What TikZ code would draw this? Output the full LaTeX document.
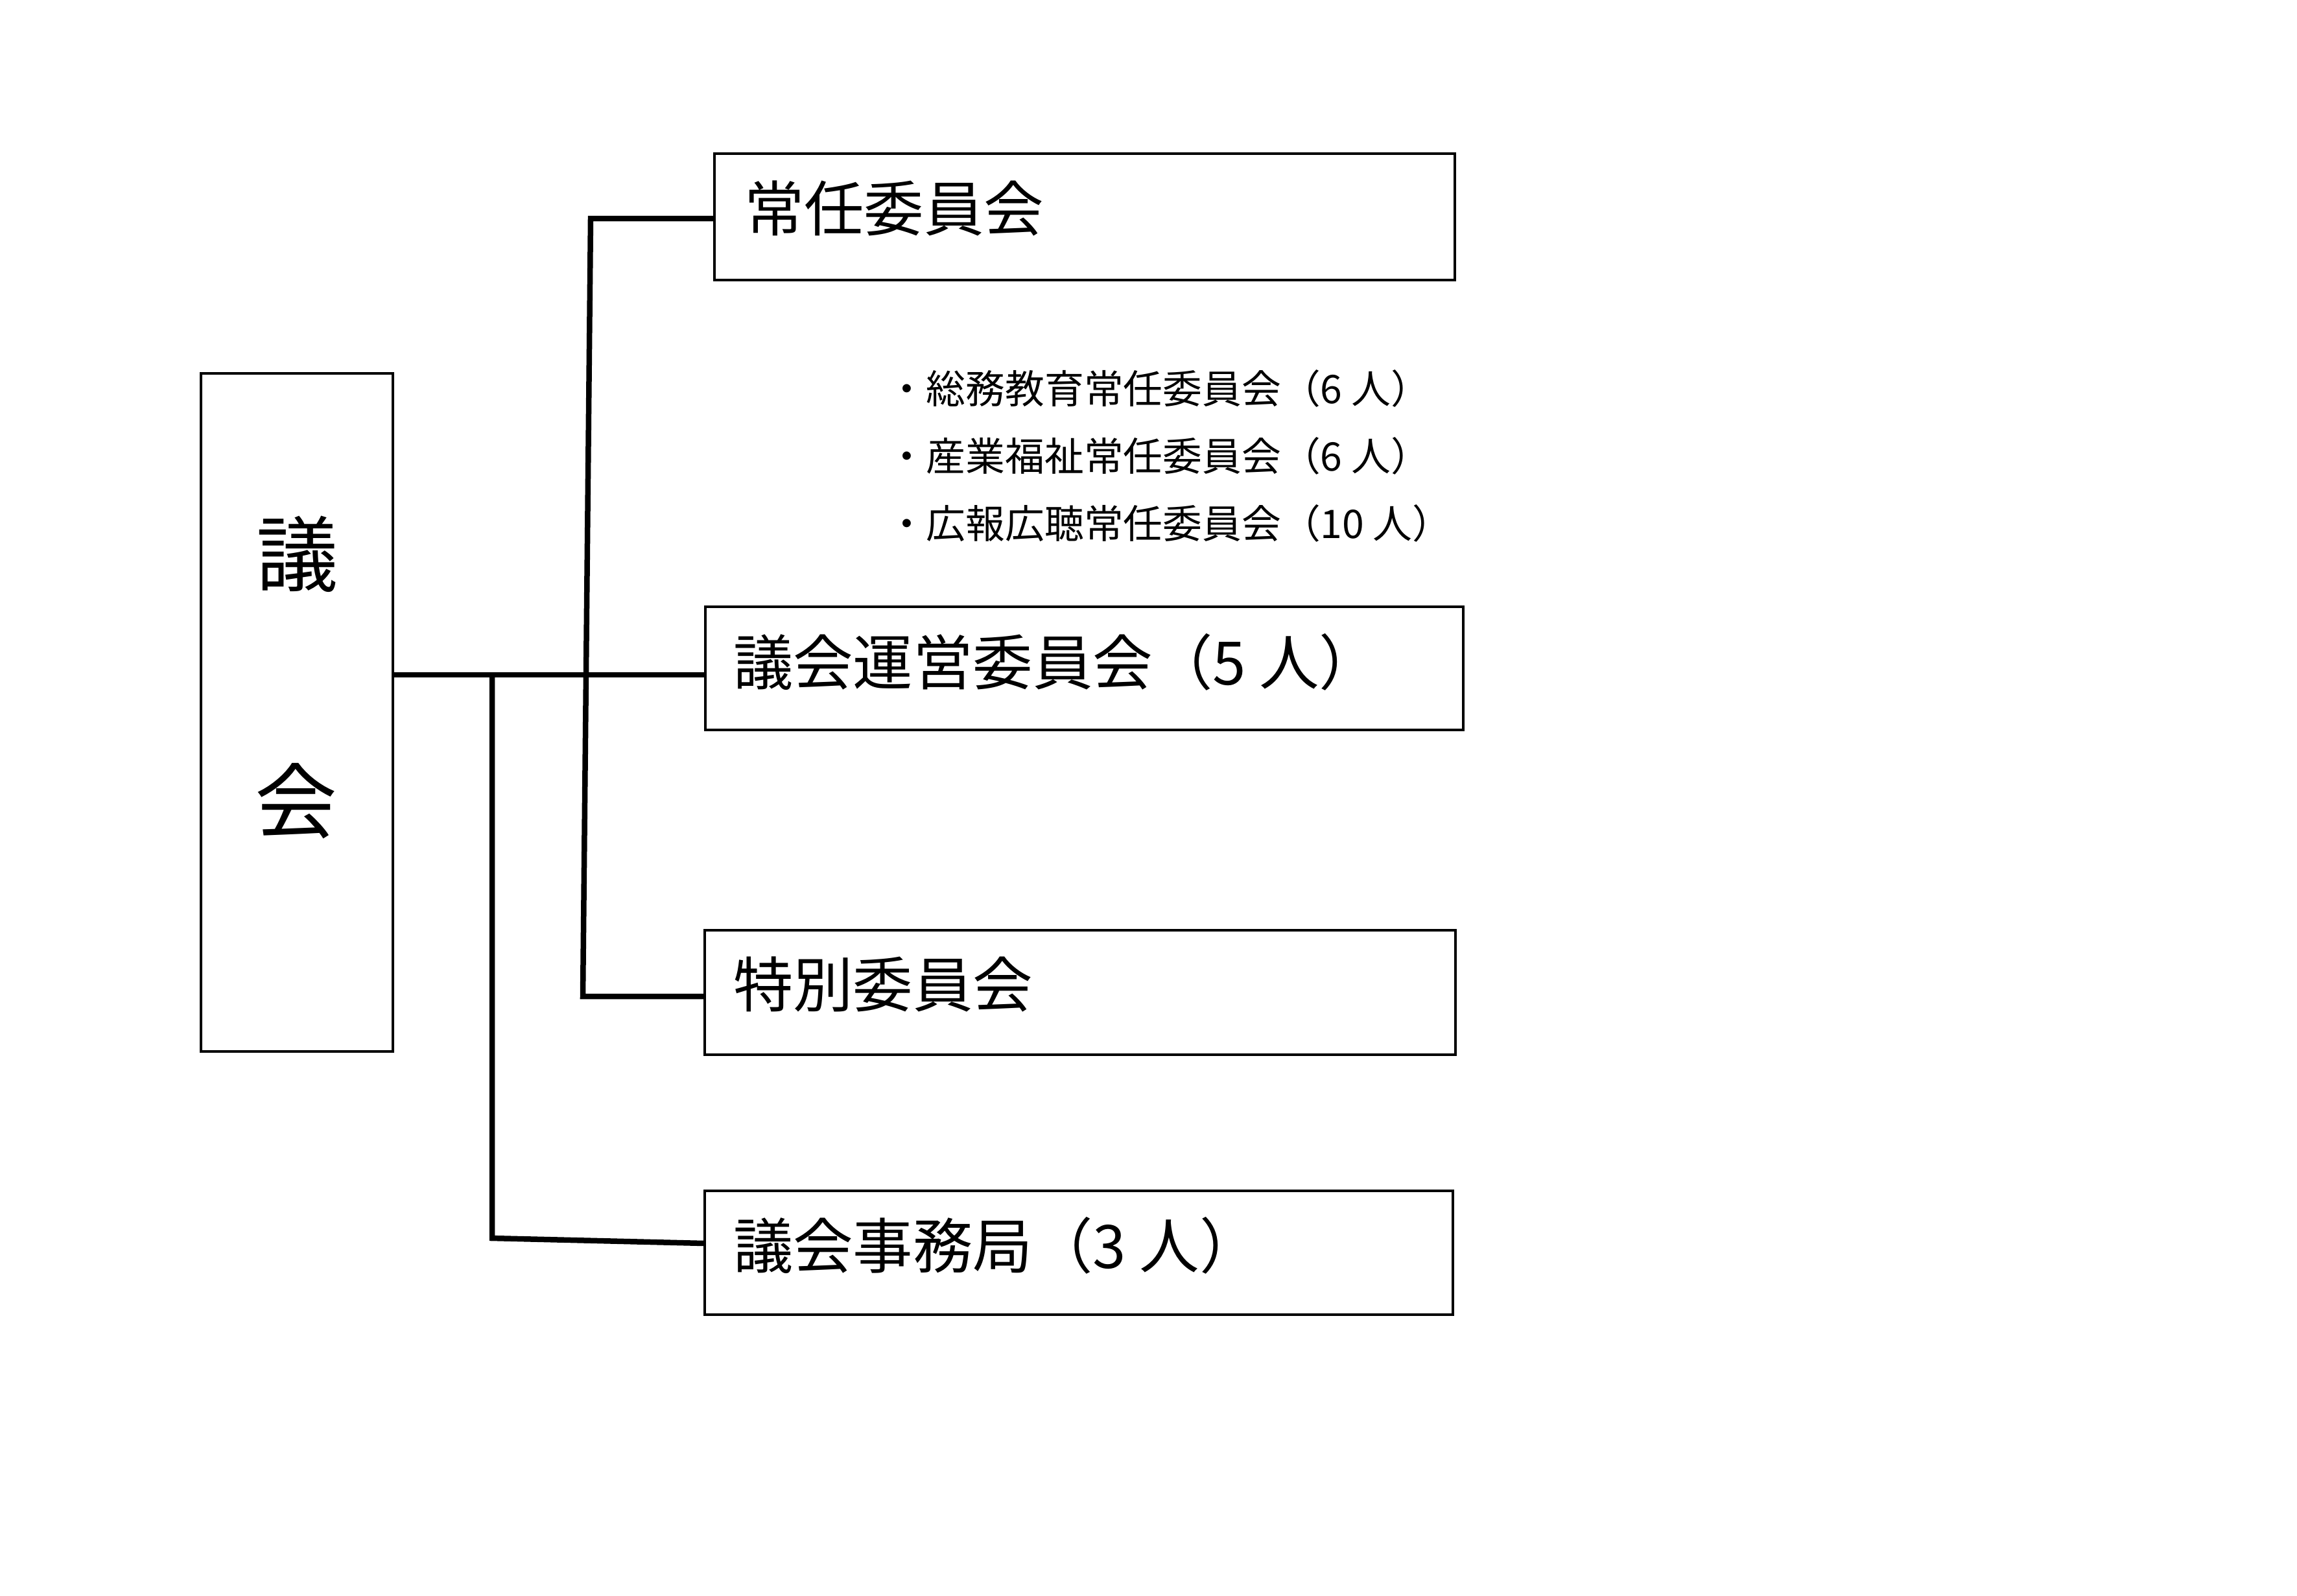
\documentclass[tikz,border=0pt]{standalone}
\usepackage{fontspec}
\setmainfont{Noto Sans CJK JP}
\begin{document}
\begin{tikzpicture}[
  box/.style={draw=black, line width=0.038cm, inner sep=0pt, outer sep=0pt, fill=none},
  conn/.style={draw=black, line width=0.085cm, line join=miter},
  lbl/.style={inner sep=0pt, outer sep=0pt, anchor=west, font=\fontsize{26.3pt}{30pt}\selectfont},
  sub/.style={inner sep=0pt, outer sep=0pt, anchor=west, font=\fontsize{17.3pt}{20pt}\selectfont},
  big/.style={inner sep=0pt, outer sep=0pt, font=\fontsize{36pt}{40pt}\selectfont}
]
\useasboundingbox (0,0) rectangle (35.43,-24.61);

% boxes
\node[box, minimum width=2.96cm, minimum height=10.46cm] (giikai) at (4.58,-10.99) {};
\node[box, minimum width=11.42cm, minimum height=1.95cm] (jonin) at (16.73,-3.345) {};
\node[box, minimum width=11.69cm, minimum height=1.90cm] (unei) at (16.725,-10.31) {};
\node[box, minimum width=11.58cm, minimum height=1.92cm] (toku) at (16.66,-15.31) {};
\node[box, minimum width=11.54cm, minimum height=1.91cm] (jimu) at (16.64,-19.325) {};

% texts
\node[big] (gi) at (4.59,-8.55) {議};
\node[big] (kai) at (4.57,-12.36) {会};
\node[lbl] (tjonin) at (11.48,-3.21) {常任委員会};
\node[lbl] (tunei) at (11.31,-10.21) {議会運営委員会（5 人）};
\node[lbl] (ttoku) at (11.31,-15.18) {特別委員会};
\node[lbl] (tjimu) at (11.31,-19.21) {議会事務局（3 人）};
\node[sub] (s1) at (13.68,-5.99) {・総務教育常任委員会（6 人）};
\node[sub] (s2) at (13.68,-7.03) {・産業福祉常任委員会（6 人）};
\node[sub] (s3) at (13.68,-8.07) {・広報広聴常任委員会（10 人）};

% junction coordinates
\coordinate (hy) at (7.59,-10.41);
\coordinate (v1t) at (9.11,-3.37);
\coordinate (v1b) at (8.99,-15.37);
\coordinate (v2b) at (7.59,-19.10);

% connectors
\draw[conn] (giikai.east |- hy) -- (unei.west |- hy);
\draw[conn] (jonin.west |- v1t) -- (v1t) -- (v1b) -- (toku.west |- v1b);
\draw[conn] (hy) -- (v2b) -- ([yshift=0.145cm]jimu.west);
\end{tikzpicture}
\end{document}
